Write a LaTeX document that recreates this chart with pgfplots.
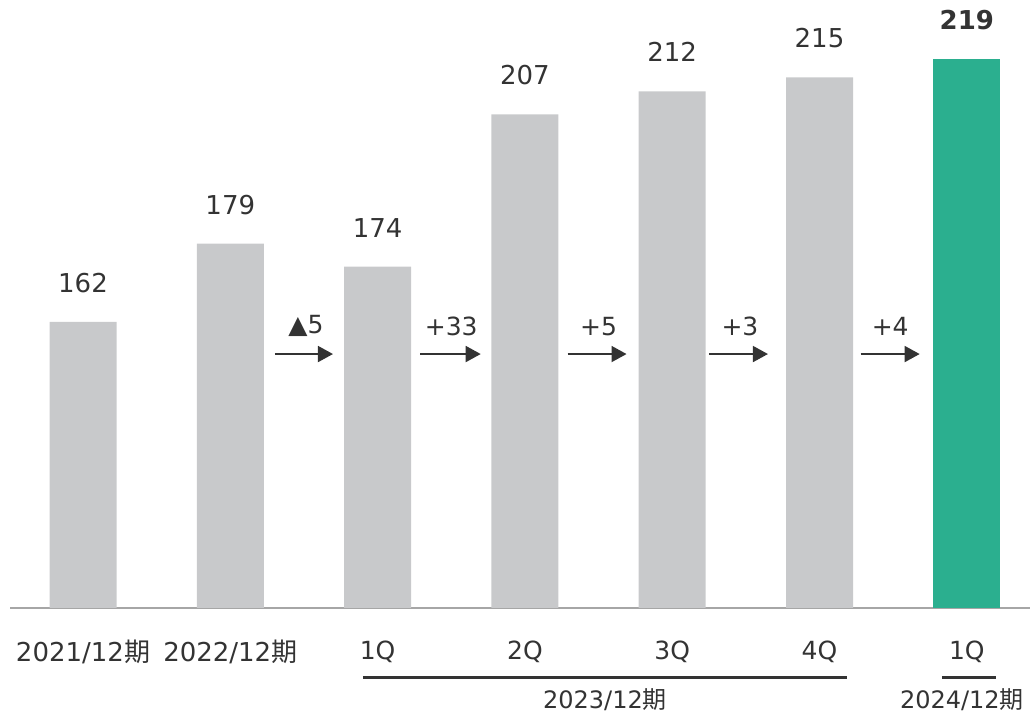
\documentclass[border=0pt]{standalone}
\usepackage{pgfplots}
\pgfplotsset{compat=1.18}
\usepackage{fontspec}
\setmainfont{DejaVu Sans}
\newfontfamily\cjk{Noto Sans CJK JP}
\usetikzlibrary{arrows.meta}
\definecolor{bargray}{HTML}{C8C9CB}
\definecolor{bargreen}{HTML}{2BAF8F}
\definecolor{txt}{HTML}{333333}
\definecolor{axgray}{HTML}{A6A6A6}
\newcommand{\fs}{\fontsize{12.5}{15}\selectfont}
\begin{document}
\begin{tikzpicture}
\useasboundingbox (0,0) rectangle (515pt,357.5pt);
\begin{axis}[at={(5pt,53.5pt)}, anchor=south west, scale only axis,
  width=510pt, height=304pt,
  xmin=-0.4956, xmax=6.429, ymin=100, ymax=231.8,
  axis x line=bottom, axis y line=none,
  x axis line style={-,draw=axgray,line width=0.75pt},
  xtick={0,...,6},
  xticklabels={{\fontsize{13}{15}\selectfont 2021/12{\cjk 期}},{\fontsize{13}{15}\selectfont 2022/12{\cjk 期}},1Q,2Q,3Q,4Q,1Q},
  major tick length=0pt,
  xticklabel style={anchor=center, yshift=-22pt, font=\fs, text=txt},
  /pgf/number format/assume math mode=true,
  ybar, bar width=33.5pt, bar shift=0pt, clip=false,
  nodes near coords,
  every node near coord/.append style={anchor=center, yshift=19.5pt, font=\fontsize{13}{15}\selectfont, text=txt},
]
\addplot[fill=bargray, draw=none] coordinates {(0,162)(1,179)(2,174)(3,207)(4,212)(5,215)};
\addplot[fill=bargreen, draw=none, every node near coord/.append style={font=\fontsize{13}{15}\selectfont\bfseries}] coordinates {(6,219)};

\tikzset{arr/.style={txt, line width=0.85pt, -{Triangle[length=7.5pt,width=8pt]}}}
\draw[arr] (axis cs:1.303,155.05) -- (axis cs:1.697,155.05);
\draw[arr] (axis cs:2.29,155.05) -- (axis cs:2.70,155.05);
\draw[arr] (axis cs:3.29,155.05) -- (axis cs:3.69,155.05);
\draw[arr] (axis cs:4.25,155.05) -- (axis cs:4.65,155.05);
\draw[arr] (axis cs:5.28,155.05) -- (axis cs:5.68,155.05);
\node[text=txt, font=\fs] at (axis cs:1.514,161.1) {▲5};
\node[text=txt, font=\fs] at (axis cs:2.50,161.1) {+33};
\node[text=txt, font=\fs] at (axis cs:3.50,161.1) {+5};
\node[text=txt, font=\fs] at (axis cs:4.46,161.1) {+3};
\node[text=txt, font=\fs] at (axis cs:5.48,161.1) {+4};

\draw[txt, line width=1.5pt] (axis cs:1.90,84.83) -- (axis cs:5.19,84.83);
\draw[txt, line width=1.5pt] (axis cs:5.83,84.83) -- (axis cs:6.20,84.83);
\node[text=txt, font=\fontsize{12}{14}\selectfont] at (axis cs:3.544,80.06) {2023/12{\cjk 期}};
\node[text=txt, font=\fontsize{12}{14}\selectfont] at (axis cs:5.967,80.06) {2024/12{\cjk 期}};
\end{axis}
\end{tikzpicture}
\end{document}
